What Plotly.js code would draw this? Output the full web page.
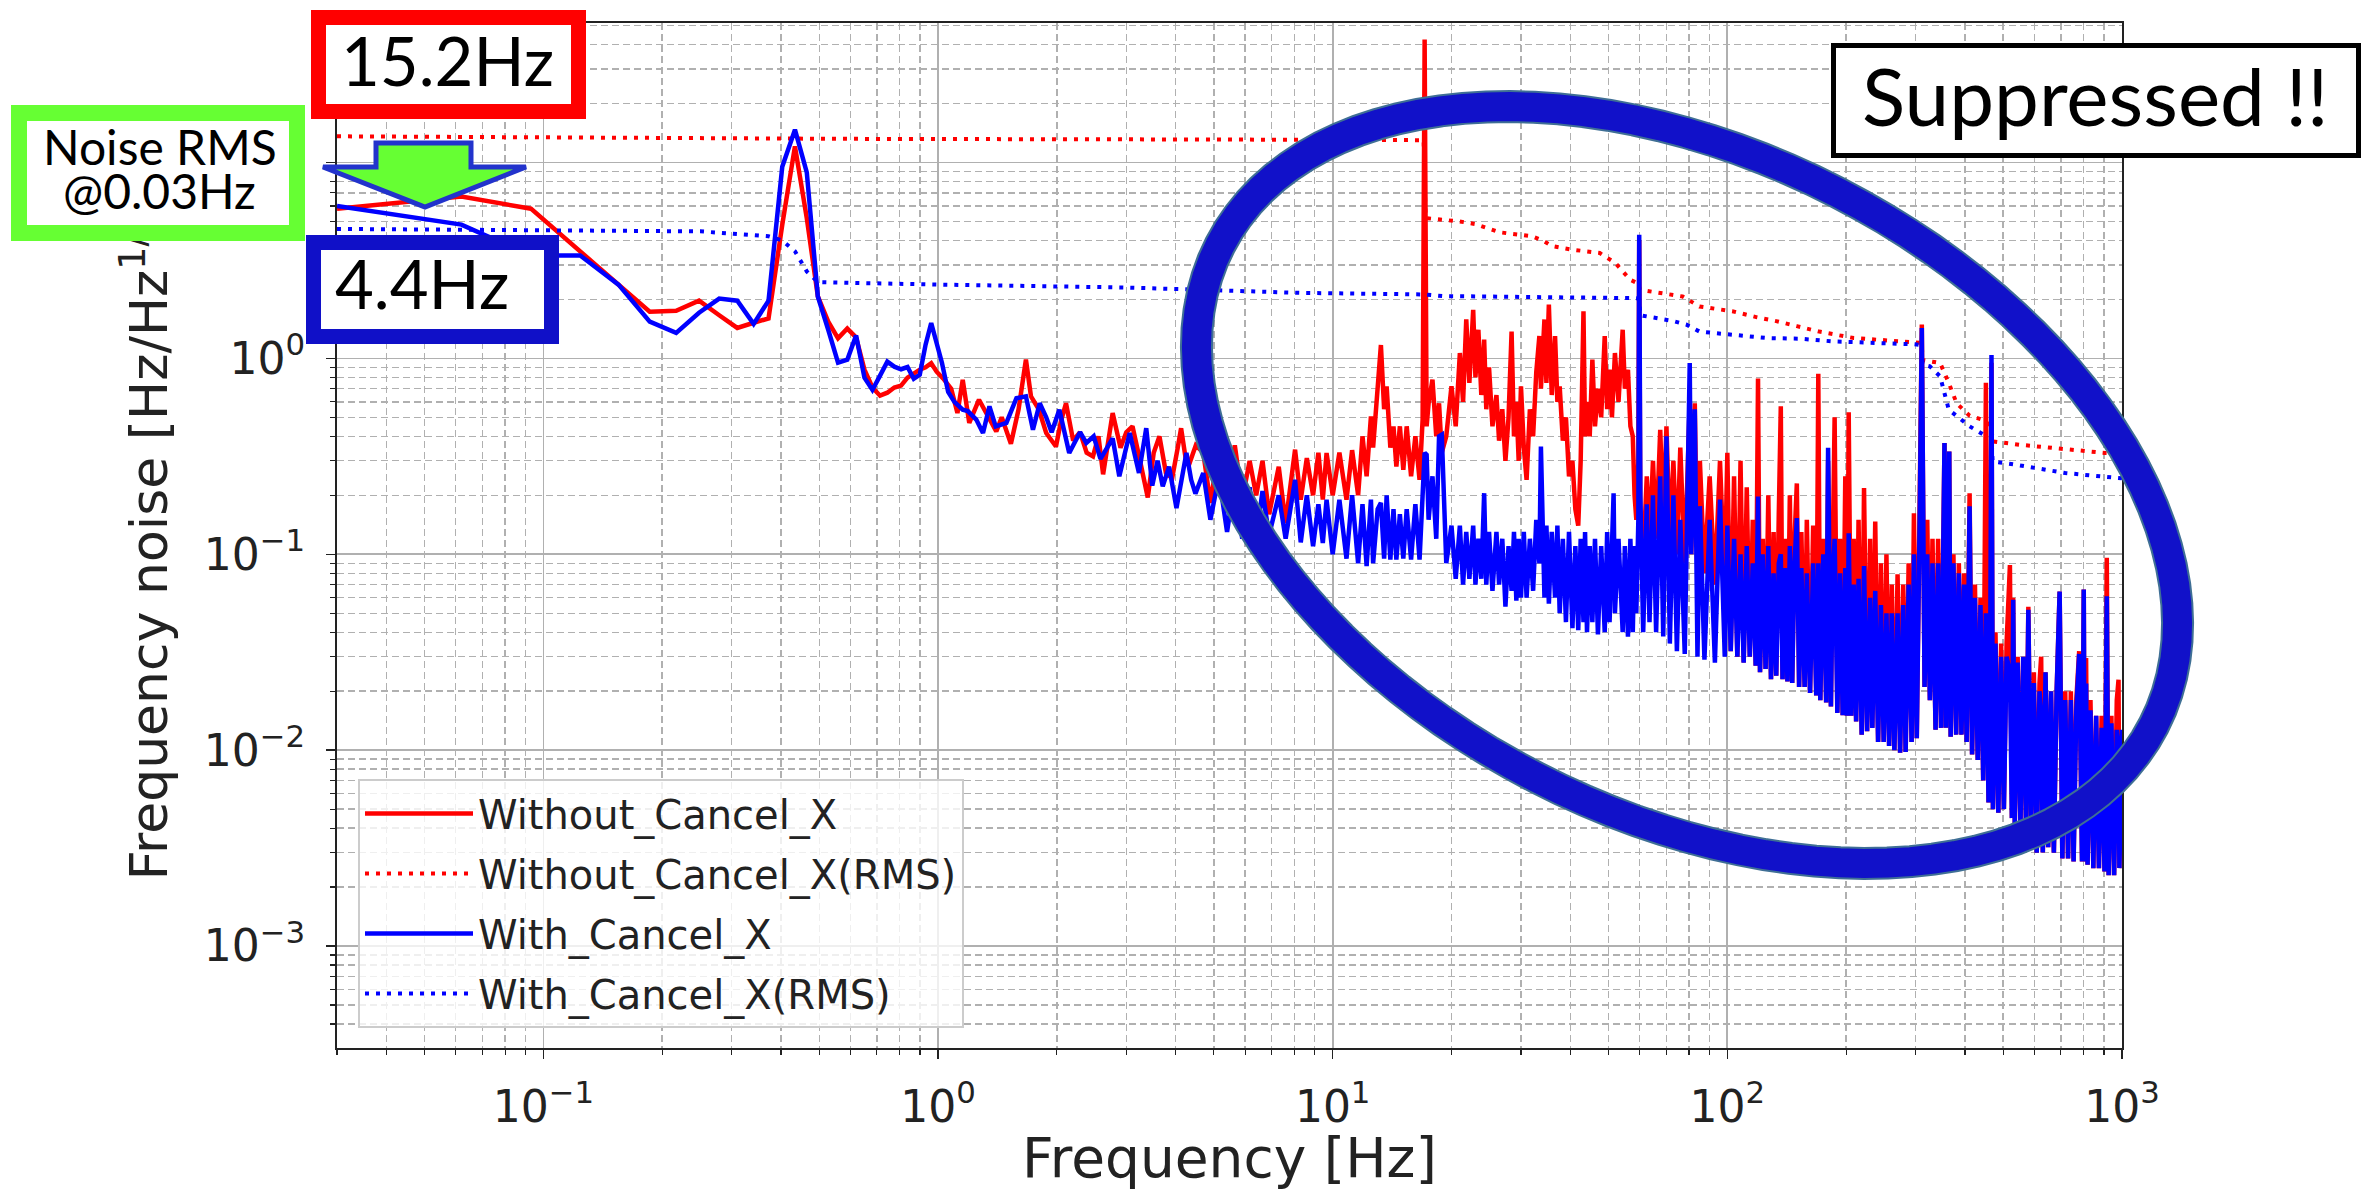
<!DOCTYPE html>
<html>
<head>
<meta charset="utf-8">
<script src="https://cdn.plot.ly/plotly-3.0.1.min.js"></script>
<style>html,body{margin:0;padding:0;background:#fff;}#chart{width:2369px;height:1190px;}</style>
</head>
<body>
<div id="chart"></div>
<script>
// ---------------- data ----------------
const freqLowRed = [0.030,0.062,0.093,0.124,0.155,0.186,0.217,0.248,0.279,0.310,0.341,0.372,0.403,0.434,0.465,0.496,0.527,0.558,0.589,0.620,0.651,0.682,0.713,0.744,0.775,0.806,0.837,0.868,0.899,0.930,0.961,0.992,1.03,1.08,1.12,1.155,1.20,1.27,1.33,1.405,1.45,1.53,1.60,1.67,1.72,1.80,1.88,1.99,2.05,2.11,2.20,2.29,2.38,2.47,2.55,2.62,2.77,2.90,3.00,3.11,3.25,3.40,3.52,3.64,3.78,3.92,4.05,4.13,4.25,4.34,4.50];
const noiseLowRed = [5.81,6.70,5.81,3.50,2.35,1.73,1.75,1.97,1.66,1.43,1.52,1.60,4.80,12.1,5.20,2.07,1.54,1.265,1.42,1.28,0.876,0.71,0.645,0.668,0.71,0.726,0.797,0.835,0.876,0.90,0.944,0.855,0.79,0.70,0.526,0.778,0.468,0.615,0.52,0.424,0.50,0.367,0.55,0.985,0.64,0.55,0.416,0.355,0.48,0.59,0.38,0.42,0.33,0.316,0.40,0.256,0.526,0.35,0.42,0.45,0.30,0.195,0.33,0.40,0.26,0.245,0.35,0.44,0.30,0.292,0.36];

const freqLowBlue = [0.030,0.062,0.093,0.124,0.155,0.186,0.217,0.248,0.279,0.310,0.341,0.372,0.403,0.434,0.465,0.496,0.527,0.558,0.589,0.620,0.651,0.682,0.713,0.744,0.775,0.806,0.837,0.868,0.899,0.930,0.961,0.992,1.023,1.061,1.10,1.155,1.19,1.25,1.30,1.35,1.40,1.49,1.58,1.67,1.74,1.81,1.88,1.94,2.03,2.15,2.29,2.375,2.48,2.58,2.67,2.77,2.88,3.06,3.23,3.37,3.49,3.60,3.71,3.85,4.02,4.15,4.26,4.38,4.49];
const noiseLowBlue = [5.99,4.82,3.35,3.35,2.38,1.54,1.35,1.71,2.02,1.97,1.50,1.97,9.5,14.7,8.9,2.07,1.40,0.95,0.985,1.31,0.797,0.69,0.816,0.962,0.907,0.88,0.903,0.787,0.826,1.175,1.515,1.19,0.95,0.674,0.60,0.547,0.538,0.487,0.416,0.569,0.45,0.468,0.626,0.64,0.432,0.59,0.50,0.42,0.547,0.329,0.42,0.37,0.40,0.307,0.342,0.39,0.25,0.416,0.26,0.44,0.224,0.30,0.222,0.28,0.172,0.25,0.329,0.24,0.204];

const freqHigh = [4.7,4.9,5.15,5.4,5.65,5.9,6.16,6.4,6.64,6.9,7.3,7.6,8.03,8.3,8.6,8.92,9.2,9.44,9.65,
10.0,10.4,10.84,11.2,11.6,11.9,12.19,12.5,12.66,13.0,13.25,13.5,13.7,14.0,14.26,14.5,14.8,15.1,15.4,15.8,16.2,16.6,16.9,17.1,17.3,17.5,17.9,18.3,18.6,18.9,19.4,20.0,20.5,21.0,21.4,21.8,22.2,22.7,23.0,23.4,23.8,24.2,24.5,24.9,25.4,26.0,26.4,26.9,27.4,27.9,28.4,28.8,29.2,29.6,30.0,30.5,31.0,31.6,32.2,32.8,33.4,33.7,34.4,34.8,35.3,35.9,36.6,37.1,37.6,38.3,39.0,39.7,40.5,41.2,41.9,42.5,43.2,43.6,44.1,44.8,45.5,46.2,47.0,47.9,48.9,49.6,50.3,51.0,51.5,51.9,53.0,54.3,55.0,56.0,56.8,57.6,58.2,58.8,59.5,59.8,60.2,61.2,62.5,63.5,64.8,66.0,67.6,68.8,70.1,71.5,73.0,74.5,76.0,78.0,80.3,81.0,82.7,84.0,85.2,87.5,90.2,93.0,95.8,98.5,
100,102,104,106,108,110,112,114,116,118,119.6,121,123,125,127,129,131,133,135,136.6,138,140,142,144,146,148,150,152,154,157,159,162,165,168,170,172,175,178,180,183,185,187,190,193,196,199,201,203,206,209,212,215,219,222,226,230,233,237,241,245,249,253,257,261,265,270,274,279,283,288,293,297,302,307,311,316,321,326,331,337,342,348,353,355,358,362,365,368,374,380,386,392,398,404,411,417,424,431,438,445,452,459,464,467,471,478,486,494,502,510,520,526,530,535,544,553,562,571,579,588,598,608,618,624,630,640,650,661,672,683,695,706,718,730,742,754,766,779,792,800,805,811,818,832,846,860,874,888,903,915,925,940,955,970,980,985,1000];

const noiseHighRed = [0.33,0.183,0.35,0.20,0.36,0.19,0.30,0.20,0.30,0.16,0.28,0.144,0.342,0.19,0.31,0.20,0.33,0.19,0.329,
0.20,0.33,0.19,0.34,0.20,0.40,0.25,0.505,0.35,0.75,1.17,0.55,0.72,0.35,0.45,0.28,0.45,0.27,0.45,0.25,0.40,0.24,0.487,42.4,0.45,0.59,0.778,0.40,0.59,0.33,0.40,0.72,0.45,1.065,0.60,1.58,0.75,1.77,0.80,1.40,0.65,1.246,0.55,0.90,0.45,0.65,0.38,0.55,0.30,0.50,1.37,0.40,0.60,0.30,0.72,0.35,0.24,0.55,0.40,0.85,1.30,0.70,1.58,0.75,1.88,0.65,1.30,0.60,0.72,0.38,0.50,0.25,0.30,0.17,0.14,0.30,1.74,0.40,0.60,0.40,0.985,0.45,0.70,0.50,1.30,0.55,0.875,0.50,0.90,1.065,0.60,1.40,0.70,0.875,0.45,0.40,0.20,0.15,0.30,4.0,0.12,0.094,0.25,0.12,0.30,0.12,0.432,0.15,0.45,0.12,0.30,0.10,0.35,0.09,0.60,0.10,0.59,0.08,0.30,0.08,0.25,0.07,0.30,0.07,
0.33,0.032,0.25,0.03,0.30,0.028,0.22,0.03,0.15,0.027,0.79,0.025,0.12,0.026,0.20,0.023,0.13,0.024,0.16,0.57,0.023,0.12,0.0224,0.20,0.022,0.12,0.23,0.021,0.13,0.021,0.15,0.0196,0.14,0.019,0.835,0.018,0.12,0.0175,0.30,0.0167,0.11,0.50,0.0155,0.12,0.0151,0.25,0.015,0.53,0.015,0.12,0.014,0.15,0.012,0.218,0.0125,0.12,0.013,0.147,0.011,0.09,0.011,0.10,0.0105,0.07,0.0100,0.079,0.0097,0.07,0.0098,0.09,0.011,0.162,0.0115,0.14,1.49,0.021,0.15,0.018,0.12,0.0127,0.12,0.013,0.10,0.37,0.013,0.10,0.335,0.0117,0.10,0.012,0.09,0.012,0.08,0.011,0.205,0.0095,0.07,0.0089,0.06,0.007,0.75,0.0054,0.05,0.95,0.005,0.04,0.0048,0.035,0.005,0.035,0.088,0.0045,0.06,0.0042,0.03,0.0041,0.03,0.0042,0.054,0.0041,0.025,0.003,0.022,0.030,0.003,0.025,0.0032,0.02,0.003,0.02,0.0645,0.0028,0.02,0.0028,0.02,0.0027,0.018,0.032,0.0027,0.066,0.0027,0.0295,0.0026,0.018,0.0025,0.015,0.0025,0.015,0.0024,0.096,0.0023,0.015,0.0023,0.018,0.0229,0.0025,0.012];

const noiseHighBlue = [0.26,0.15,0.25,0.13,0.24,0.12,0.22,0.12,0.21,0.125,0.20,0.12,0.24,0.115,0.20,0.11,0.18,0.114,0.19,
0.10,0.19,0.095,0.20,0.09,0.18,0.087,0.19,0.09,0.17,0.183,0.095,0.20,0.094,0.17,0.094,0.16,0.095,0.17,0.094,0.18,0.094,0.20,0.33,0.322,0.15,0.25,0.12,0.40,0.408,0.09,0.14,0.075,0.14,0.07,0.13,0.075,0.14,0.07,0.12,0.075,0.205,0.07,0.13,0.065,0.13,0.07,0.12,0.054,0.11,0.065,0.13,0.058,0.12,0.06,0.13,0.06,0.12,0.065,0.15,0.09,0.355,0.06,0.14,0.056,0.13,0.06,0.14,0.05,0.12,0.045,0.13,0.042,0.11,0.041,0.12,0.045,0.13,0.04,0.11,0.045,0.12,0.039,0.11,0.04,0.13,0.045,0.12,0.205,0.05,0.12,0.04,0.11,0.038,0.12,0.04,0.11,0.05,0.15,4.28,0.20,0.04,0.18,0.045,0.20,0.04,0.25,0.038,0.40,0.035,0.20,0.032,0.15,0.031,0.947,0.10,0.55,0.03,0.176,0.029,0.15,0.028,0.19,0.03,
0.14,0.032,0.12,0.03,0.10,0.028,0.11,0.03,0.09,0.027,0.197,0.025,0.10,0.026,0.11,0.023,0.08,0.024,0.09,0.10,0.023,0.085,0.0224,0.11,0.022,0.09,0.153,0.021,0.085,0.021,0.08,0.0196,0.09,0.019,0.09,0.018,0.10,0.0175,0.35,0.0167,0.08,0.12,0.0155,0.08,0.0151,0.085,0.015,0.128,0.015,0.07,0.014,0.075,0.012,0.087,0.0125,0.06,0.013,0.065,0.011,0.055,0.011,0.05,0.0105,0.05,0.0100,0.05,0.0097,0.055,0.0098,0.07,0.011,0.10,0.0115,0.14,1.43,0.021,0.10,0.018,0.09,0.0127,0.09,0.013,0.08,0.37,0.013,0.09,0.335,0.0117,0.09,0.012,0.08,0.012,0.07,0.011,0.176,0.0095,0.06,0.0089,0.055,0.007,0.05,0.0054,0.05,1.04,0.005,0.035,0.0048,0.03,0.005,0.03,0.025,0.0045,0.0585,0.0042,0.028,0.0041,0.03,0.0042,0.052,0.0041,0.022,0.003,0.02,0.015,0.003,0.025,0.0032,0.02,0.003,0.02,0.0645,0.0028,0.018,0.0028,0.018,0.0027,0.016,0.031,0.0027,0.066,0.0027,0.0219,0.0026,0.016,0.0025,0.015,0.0025,0.013,0.0024,0.061,0.0023,0.0137,0.0023,0.0127,0.010,0.0025,0.0127];

const freqRmsRed = [0.03,0.6,5,17.0,17.2,21,23,26.5,32,34,36,40,47.5,52,56.7,59.7,60,77,85,103,119,133,150,171,209,297,311,312,346,364,381,411,444,467,470,553,718,906,1000];
const rmsRed = [13.6,13.2,13.1,13.0,5.2,5.0,4.85,4.4,4.2,4.0,3.74,3.6,3.45,3.07,2.52,2.40,2.24,2.07,1.84,1.74,1.62,1.55,1.46,1.37,1.27,1.21,1.20,0.98,0.947,0.75,0.59,0.51,0.486,0.45,0.377,0.362,0.342,0.329,0.326];

const freqRmsBlue = [0.03,0.062,0.25,0.372,0.403,0.434,0.465,0.496,0.6,1.0,3,8.24,17.1,19,57.6,59.7,60.2,62.7,73,78.6,82.8,85,103,126,153,186,297,311,312,326,346,364,411,444,467,470,535,718,978,1000];
const rmsBlue = [4.58,4.55,4.45,4.2,4.0,3.52,2.78,2.45,2.43,2.38,2.30,2.16,2.12,2.08,2.03,2.02,1.66,1.64,1.55,1.49,1.40,1.37,1.32,1.27,1.26,1.22,1.18,1.17,0.93,0.91,0.81,0.547,0.45,0.41,0.40,0.298,0.287,0.26,0.245,0.244];

const seriesNames = ['Without_Cancel_X','Without_Cancel_X(RMS)','With_Cancel_X','With_Cancel_X(RMS)'];
const xTickVals = [0.1, 1, 10, 100, 1000];
const xTickText = ['10<sup>−1</sup>','10<sup>0</sup>','10<sup>1</sup>','10<sup>2</sup>','10<sup>3</sup>'];
const yTickVals = [0.001, 0.01, 0.1, 1, 10];
const yTickText = ['10<sup>−3</sup>','10<sup>−2</sup>','10<sup>−1</sup>','10<sup>0</sup>','10<sup>1</sup>'];
const boxLabels = ['15.2Hz', 'Noise RMS', '@0.03Hz', '4.4Hz', 'Suppressed !!'];

// ---------------- layout geometry ----------------
const W = 2369, H = 1190;
const PL = 337, PT = 23, PW = 1785, PH = 1025;
const px = x => (x - PL) / PW;
const py = y => (PT + PH - y) / PH;

function minorTicks(d0, d1) {
  const out = [];
  for (let d = d0; d <= d1; d++) for (let k = 2; k <= 9; k++) out.push(k * Math.pow(10, d));
  return out;
}

const RED = '#ff0000', BLUE = '#0000ff';
const traces = [
  {x: freqLowRed.concat(freqHigh), y: noiseLowRed.concat(noiseHighRed), name: seriesNames[0], legendgroup: 'a',
   mode: 'lines', line: {color: RED, width: 4.5}},
  {x: freqRmsRed, y: rmsRed, name: seriesNames[1], legendgroup: 'b',
   mode: 'lines', line: {color: RED, width: 4, dash: '4px,7px'}},
  {x: freqLowBlue.concat(freqHigh), y: noiseLowBlue.concat(noiseHighBlue), name: seriesNames[2], legendgroup: 'c',
   mode: 'lines', line: {color: BLUE, width: 4.5}},
  {x: freqRmsBlue, y: rmsBlue, name: seriesNames[3], legendgroup: 'd',
   mode: 'lines', line: {color: BLUE, width: 4, dash: '4px,7px'}}
];

// ellipse and arrow decorations
function ellipsePath(cx, cy, a, b, thDeg, n) {
  const th = thDeg * Math.PI / 180;
  let d = '';
  for (let i = 0; i <= n; i++) {
    const t = 2 * Math.PI * i / n;
    const X = cx + a * Math.cos(t) * Math.cos(th) - b * Math.sin(t) * Math.sin(th);
    const Y = cy + a * Math.cos(t) * Math.sin(th) + b * Math.sin(t) * Math.cos(th);
    d += (i ? 'L' : 'M') + px(X).toFixed(5) + ',' + py(Y).toFixed(5);
  }
  return d + 'Z';
}
const arrowPts = [[376,143],[471,143],[471,167],[526,167],[425,207],[323,167],[376,167]];
const arrowPath = arrowPts.map((p, i) => (i ? 'L' : 'M') + px(p[0]).toFixed(5) + ',' + py(p[1]).toFixed(5)).join('') + 'Z';
const ell = ellipsePath(1687, 485, 525, 329, 27.2, 120);

const shapes = [
  {type: 'path', xref: 'paper', yref: 'paper', path: ell, line: {color: '#3f6f95', width: 33}, layer: 'above'},
  {type: 'path', xref: 'paper', yref: 'paper', path: ell, line: {color: '#1111c9', width: 29}, layer: 'above'},
  {type: 'path', xref: 'paper', yref: 'paper', path: arrowPath, fillcolor: '#66ff33', line: {color: '#2233cc', width: 5}, layer: 'above'}
];

const BOXFONT = "Lato, 'Open Sans', sans-serif";
function box(cx, cy, w, h, bw, color) {
  return {xref: 'paper', yref: 'paper', x: px(cx), y: py(cy), xanchor: 'center', yanchor: 'middle',
    text: ' ', showarrow: false, width: w, height: h, borderwidth: bw, borderpad: 0,
    bordercolor: color, bgcolor: '#ffffff'};
}
function label(x, y, txt, size, anchor) {
  return {xref: 'paper', yref: 'paper', x: px(x), y: py(y), xanchor: anchor, yanchor: 'middle',
    text: txt, showarrow: false, font: {family: BOXFONT, size: size, color: '#000000'}};
}
const annotations = [
  box(448.5, 64.5, 245, 79, 15, '#ff0000'),
  label(339, 60, boxLabels[0], 67, 'left'),
  box(158, 173, 262, 104, 16, '#66ff33'),
  label(159.5, 146, boxLabels[1], 48, 'center'),
  label(159, 190, boxLabels[2], 48, 'center'),
  box(432.5, 289.5, 223, 79, 15, '#1010c8'),
  label(333, 283, boxLabels[3], 67, 'left'),
  box(2096, 100.5, 520, 105, 5, '#000000'),
  label(1860, 95, boxLabels[4], 80, 'left')
];

const axisCommon = {
  type: 'log', tickmode: 'array', ticks: 'outside', ticklen: 9, tickwidth: 1.5, tickcolor: '#222',
  showgrid: true, gridcolor: '#b0b0b0', gridwidth: 1.7, showline: true, linecolor: '#222', linewidth: 2,
  mirror: true, zeroline: false, automargin: false,
  tickfont: {family: 'DejaVu Sans', size: 44, color: '#222'}
};

const layout = {
  width: W, height: H, paper_bgcolor: '#ffffff', plot_bgcolor: '#ffffff',
  margin: {l: PL, r: W - PL - PW, t: PT, b: H - PT - PH, autoexpand: false},
  showlegend: true, hovermode: false,
  xaxis: Object.assign({}, axisCommon, {
    range: [Math.log10(0.03), 3], tickvals: xTickVals, ticktext: xTickText, ticklabelstandoff: 10,
    minor: {tickmode: 'array', tickvals: minorTicks(-2, 2), ticks: 'outside', ticklen: 5, tickwidth: 1.2, tickcolor: '#222',
            showgrid: true, gridcolor: '#b0b0b0', gridwidth: 1.4, griddash: '7px,4px'},
    title: {text: 'Frequency [Hz]', font: {family: 'DejaVu Sans', size: 55, color: '#222'}, standoff: 10}
  }),
  yaxis: Object.assign({}, axisCommon, {
    range: [-3.5204, 1.712], tickvals: yTickVals, ticktext: yTickText, ticklabelstandoff: 12,
    minor: {tickmode: 'array', tickvals: minorTicks(-4, 1), ticks: 'outside', ticklen: 5, tickwidth: 1.2, tickcolor: '#222',
            showgrid: true, gridcolor: '#b0b0b0', gridwidth: 1.4, griddash: '7px,4px'},
    title: {text: 'Frequency noise [Hz/Hz<sup>1/2</sup>]', font: {family: 'DejaVu Sans', size: 52, color: '#222'}, standoff: 20}
  }),
  legend: {x: px(358), y: py(1028), xanchor: 'left', yanchor: 'bottom', bgcolor: 'rgba(255,255,255,0.8)',
           bordercolor: '#cccccc', borderwidth: 2, tracegroupgap: 5, itemwidth: 108,
           font: {family: 'DejaVu Sans', size: 40, color: '#222'}},
  shapes: shapes,
  annotations: annotations
};

Plotly.newPlot('chart', traces, layout, {staticPlot: true, displayModeBar: false});
</script>
</body>
</html>
